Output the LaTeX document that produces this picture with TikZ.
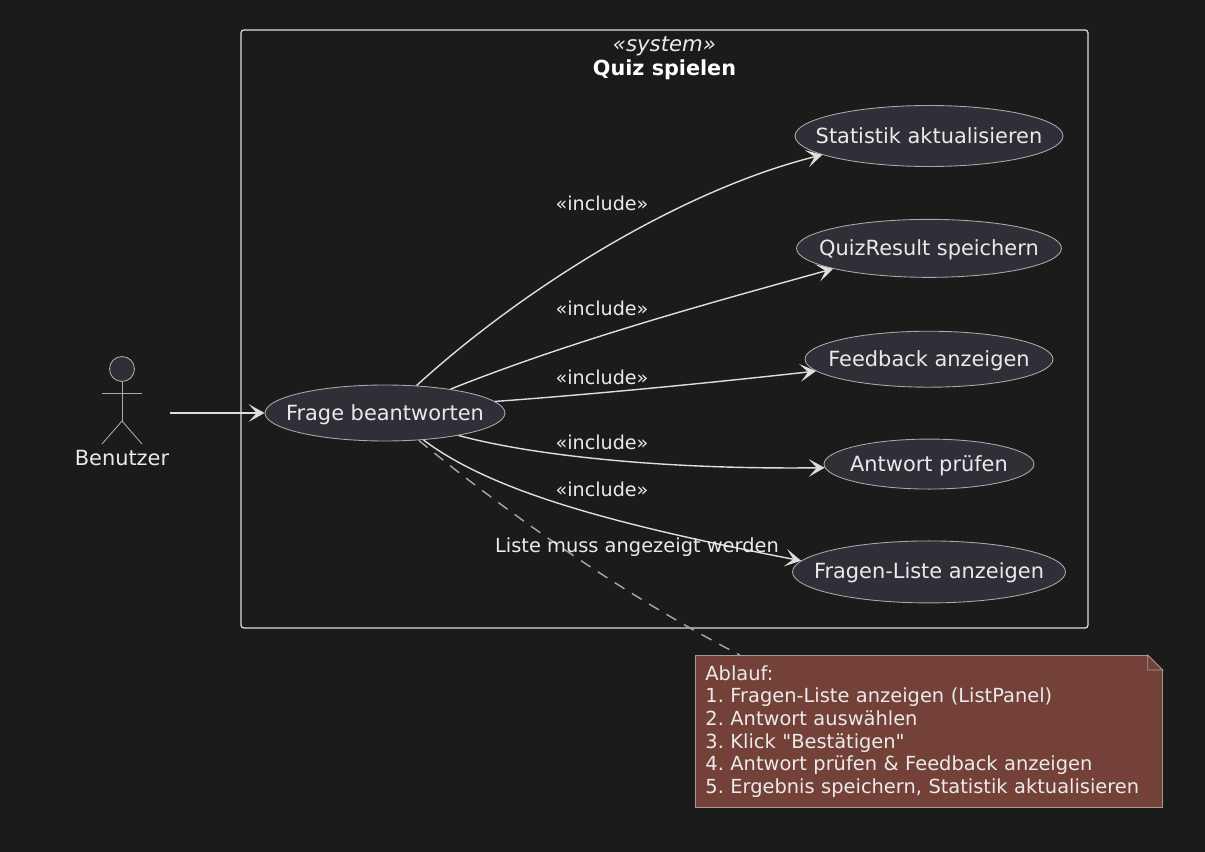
\documentclass[tikz,border=0pt]{standalone}
\usepackage{fontspec}
\setmainfont{DejaVu Sans}[Ligatures=TeXOff]
\usepackage{xcolor}
\usetikzlibrary{arrows.meta,positioning,shapes.geometric,calc}
\definecolor{bgdark}{HTML}{1B1B1B}
\definecolor{ucfill}{HTML}{2F2F38}
\definecolor{ucline}{HTML}{A8A8A8}
\definecolor{arrline}{HTML}{DEDEDE}
\definecolor{txtlight}{HTML}{EAEAEA}
\definecolor{notefill}{HTML}{744138}
\definecolor{noteline}{HTML}{A89A96}
\newcommand{\uctext}[1]{\makebox[0pt]{\smash{\raisebox{-4pt}{#1}}}}
\tikzset{
  usecase/.style={draw=ucline, fill=ucfill, ellipse, line width=0.5pt, inner sep=0pt,
    text=txtlight, font=\fontsize{11.9}{14}\selectfont},
  inclabel/.style={text=txtlight, inner sep=0pt, font=\fontsize{10.9}{13}\selectfont},
  notebox/.style={draw=noteline, fill=notefill, line width=0.5pt, align=left, anchor=north west,
    text=txtlight, inner sep=0pt, font=\frenchspacing\fontsize{11.05}{12.9}\selectfont},
  actorline/.style={draw=ucline, line width=0.5pt},
  arrw/.style={-{Stealth[length=9pt,width=10pt,inset=4.5pt]}, draw=arrline, line width=0.8pt},
}
\begin{document}
\begin{tikzpicture}[x=0.02cm, y=-0.02cm]
  \fill[bgdark] (0,0) rectangle (1205,852);
  \useasboundingbox (0,0) rectangle (1205,852);

  % System boundary
  \node[draw=arrline, rounded corners=1.5pt, line width=0.7pt, minimum width=16.94cm,
        minimum height=11.96cm, inner sep=0pt] (system) at (664.5,329) {};
  \node[text=txtlight, inner sep=0pt, font=\fontsize{12.1}{14}\itshape\selectfont] (stereo) at (664.5,46) {«system»};
  \node[text=white, inner sep=0pt, font=\fontsize{11.8}{14}\bfseries\selectfont] (title) at (664.5,70) {Quiz spielen};

  % Actor
  \node[actorline, fill=ucfill, circle, minimum size=0.5cm, inner sep=0pt] (head) at (122,369) {};
  \coordinate (hip) at (122,421);
  \coordinate (armleft) at (102,393);
  \coordinate (armright) at (142,393);
  \coordinate (footleft) at (102,444);
  \coordinate (footright) at (142,444);
  \draw[actorline] (head) -- (hip);
  \draw[actorline] (armleft) -- (armright);
  \draw[actorline] (footleft) -- (hip) -- (footright);
  \node[inclabel, font=\fontsize{11.9}{14}\selectfont] (benutzer) at (122,458) {Benutzer};
  \coordinate (actorout) at (170,413);

  % Use cases
  \node[usecase, minimum width=4.8cm, minimum height=1.12cm] (frage) at (385,413)
    {\uctext{Frage beantworten}};
  \node[usecase, minimum width=5.36cm, minimum height=1.22cm] (statistik) at (929,136)
    {\uctext{Statistik aktualisieren}};
  \node[usecase, minimum width=5.3cm, minimum height=1.16cm, below=1.04cm of statistik] (result)
    {\uctext{QuizResult speichern}};
  \node[usecase, minimum width=4.96cm, minimum height=1.12cm, below=1.06cm of result] (feedback)
    {\uctext{Feedback anzeigen}};
  \node[usecase, minimum width=4.2cm, minimum height=1.0cm, below=1.02cm of feedback] (pruefen)
    {\uctext{Antwort prüfen}};
  \node[usecase, minimum width=5.46cm, minimum height=1.24cm, below=1.02cm of pruefen] (liste)
    {\uctext{Fragen-Liste anzeigen}};

  % Note
  \node[notebox, minimum width=9.34cm, minimum height=3.04cm, text width=8.94cm,
        inner xsep=0.2cm] (ablauf) at (695,655)
    {Ablauf:\\
     1. Fragen-Liste anzeigen (ListPanel)\\
     2. Antwort auswählen\\
     3. Klick "Bestätigen"\\
     4. Antwort prüfen \& Feedback anzeigen\\
     5. Ergebnis speichern, Statistik aktualisieren};
  \fill[bgdark] ($(ablauf.north east)+(-15,0)$) -- (ablauf.north east) -- ($(ablauf.north east)+(0,15)$) -- cycle;
  \draw[draw=noteline, line width=0.5pt] ($(ablauf.north east)+(-15,0)$) -- ($(ablauf.north east)+(0,15)$)
    -- ($(ablauf.north east)+(-15,15)$) -- cycle;

  % Arrows
  \draw[arrw] (actorout) -- (frage);
  \draw[arrw] (frage.41) .. controls +(104,-95) and +(-144,36) .. (statistik.190);
  \draw[arrw] (frage.20) .. controls +(125,-50) and +(-115,32) .. (result.192);
  \draw[arrw] (frage.6) .. controls +(110,-8) and +(-90,10) .. (feedback.186);
  \draw[arrw] (frage.-17) .. controls +(70,19) and +(-166,2) .. (pruefen.182);
  \draw[arrw] (frage.-35) .. controls +(69,52) and +(-186,-36) .. (liste.175);
  \draw[ucline, line width=0.8pt, dash pattern=on 6.5pt off 5pt] (frage.-39)
    .. controls +(80,66) and +(-125,-65) .. (ablauf.158);

  % Labels
  \node[inclabel] (inc1) at (602,203) {«include»};
  \node[inclabel] (inc2) at (602,308) {«include»};
  \node[inclabel] (inc3) at (602,377) {«include»};
  \node[inclabel] (inc4) at (602,442) {«include»};
  \node[inclabel] (inc5) at (602,489) {«include»};
  \node[inclabel, font=\fontsize{11.05}{13}\selectfont] (hint) at (637,547) {Liste muss angezeigt werden};
\end{tikzpicture}
\end{document}
